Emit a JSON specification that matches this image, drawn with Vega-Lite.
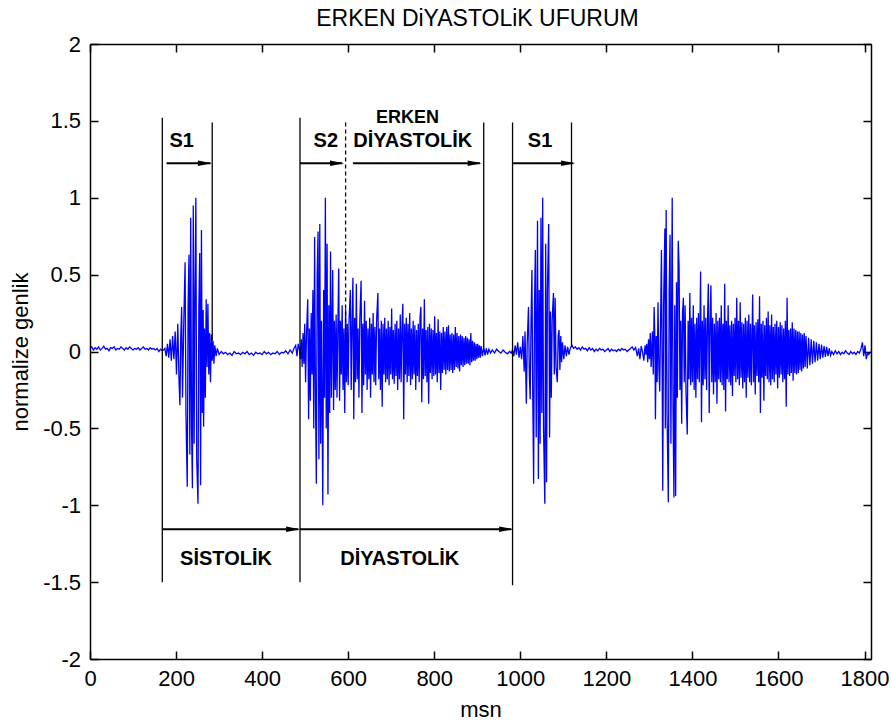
{
"$schema": "https://vega.github.io/schema/vega-lite/v6.json",
"width": 781, "height": 615,
"autosize": {"type": "none"},
"padding": {"left": 90, "top": 44, "right": 21, "bottom": 65},
"background": "white",
"config": {
  "view": {"stroke": null},
  "font": "Liberation Sans",
  "axis": {"domainColor": "black", "domainWidth": 1.5, "tickColor": "black", "tickWidth": 1.5, "tickSize": -8, "labelColor": "black", "labelFont": "Liberation Sans", "labelFontSize": 22, "grid": false, "titleFont": "Liberation Sans", "titleFontSize": 22, "titleFontWeight": "normal", "titleColor": "black", "labelPadding": 17.4},
  "title": {"fontSize": 23, "fontWeight": "normal", "font": "Liberation Sans", "color": "black"}
},
"title": {"text": "ERKEN DiYASTOLiK UFURUM", "offset": 14, "baseline": "bottom", "anchor": "middle", "frame": "group", "dy": 35, "dx": -3},
"resolve": {"axis": {"x": "independent", "y": "independent"}},
"layer": [
{
"data": {"values": [
{"t":0,"v":0.02},{"t":4,"v":0.03},{"t":8,"v":0.01},{"t":12,"v":0.025},{"t":16,"v":0.015},{"t":20,"v":0.03},{"t":24,"v":0.01},{"t":28,"v":0.02},{"t":32,"v":0.035},{"t":36,"v":0.015},{"t":40,"v":0.02},{"t":44,"v":0.005},{"t":48,"v":0.025},{"t":52,"v":0.02},{"t":56,"v":0.03},{"t":60,"v":0.01},{"t":64,"v":0.02},{"t":68,"v":0.015},{"t":72,"v":0.03},{"t":76,"v":0.02},{"t":80,"v":0.01},{"t":84,"v":0.025},{"t":88,"v":0.015},{"t":92,"v":0.03},{"t":96,"v":0.02},{"t":100,"v":0.01},{"t":104,"v":0.02},{"t":108,"v":0.015},{"t":112,"v":0.025},{"t":116,"v":0.01},{"t":120,"v":0.02},{"t":124,"v":0.03},{"t":128,"v":0.015},{"t":132,"v":0.02},{"t":136,"v":0.01},{"t":140,"v":0.025},{"t":144,"v":0.015},{"t":148,"v":0.02},{"t":152,"v":0.01},{"t":156,"v":0.02},{"t":160,"v":0.0},{"t":164,"v":0.015},{"t":168,"v":0.005},{"t":171,"v":0.01},
{"t":174,"v":0.02},{"t":177,"v":-0.03},{"t":180,"v":0.05},{"t":183,"v":-0.04},{"t":186,"v":0.08},{"t":189,"v":-0.06},{"t":192,"v":0.1},{"t":195,"v":-0.05},{"t":198,"v":0.13},{"t":201,"v":-0.15},{"t":204,"v":0.18},{"t":207,"v":-0.2},{"t":209,"v":-0.35},{"t":211,"v":0.1},{"t":213,"v":0.29},{"t":215,"v":-0.3},{"t":218,"v":0.2},{"t":221,"v":0.58},{"t":223,"v":-0.4},{"t":226,"v":-0.88},{"t":228,"v":0.3},{"t":230,"v":0.63},{"t":232,"v":-0.67},{"t":234,"v":0.87},{"t":236,"v":-0.5},{"t":238,"v":-0.89},{"t":240,"v":0.95},{"t":242,"v":-0.6},{"t":244,"v":0.4},{"t":246,"v":1.0},{"t":248,"v":-0.7},{"t":251,"v":-0.99},{"t":253,"v":0.3},{"t":255,"v":0.64},{"t":257,"v":-0.87},{"t":259,"v":0.79},{"t":261,"v":-0.4},{"t":263,"v":0.27},{"t":264,"v":-0.49},{"t":266,"v":0.15},{"t":268,"v":-0.3},{"t":270,"v":0.34},{"t":272,"v":-0.1},{"t":274,"v":0.31},{"t":276,"v":-0.15},{"t":278,"v":0.12},{"t":280,"v":-0.2},{"t":282,"v":0.11},{"t":284,"v":-0.06},{"t":286,"v":0.07},{"t":288,"v":-0.08},{"t":290,"v":0.04},{"t":293,"v":-0.03},{"t":296,"v":0.02},
{"t":300,"v":-0.02},{"t":305,"v":0.0},{"t":310,"v":-0.015},{"t":315,"v":-0.005},{"t":320,"v":-0.02},{"t":325,"v":-0.01},{"t":330,"v":-0.025},{"t":335,"v":0.0},{"t":340,"v":-0.015},{"t":345,"v":-0.01},{"t":350,"v":-0.02},{"t":355,"v":-0.005},{"t":360,"v":-0.015},{"t":365,"v":0.0},{"t":370,"v":-0.02},{"t":375,"v":-0.01},{"t":380,"v":-0.025},{"t":385,"v":-0.005},{"t":390,"v":-0.015},{"t":395,"v":-0.01},{"t":400,"v":-0.02},{"t":405,"v":0.0},{"t":410,"v":-0.015},{"t":415,"v":-0.005},{"t":420,"v":-0.02},{"t":425,"v":-0.01},{"t":430,"v":-0.015},{"t":435,"v":0.0},{"t":440,"v":-0.02},{"t":445,"v":-0.005},{"t":450,"v":-0.01},{"t":455,"v":0.005},{"t":460,"v":-0.015},{"t":465,"v":0.01},{"t":470,"v":-0.01},{"t":474,"v":0.02},{"t":478,"v":0.04},{"t":481,"v":-0.03},{"t":484,"v":0.05},{"t":487,"v":0.01},
{"t":489,"v":-0.05},{"t":491,"v":0.08},{"t":493,"v":-0.1},{"t":495,"v":0.12},{"t":497,"v":-0.08},{"t":499,"v":0.18},{"t":501,"v":-0.2},{"t":503,"v":0.1},{"t":506,"v":0.34},{"t":508,"v":-0.44},{"t":510,"v":0.15},{"t":512,"v":-0.32},{"t":514,"v":0.25},{"t":516,"v":-0.15},{"t":518,"v":0.4},{"t":520,"v":-0.5},{"t":522,"v":0.745},{"t":524,"v":-0.3},{"t":526,"v":-0.86},{"t":528,"v":0.5},{"t":530,"v":0.78},{"t":532,"v":-0.7},{"t":534,"v":0.83},{"t":536,"v":-0.6},{"t":538,"v":0.2},{"t":541,"v":-1.0},{"t":543,"v":0.4},{"t":545,"v":-0.3},{"t":547,"v":1.0},{"t":549,"v":-0.5},{"t":551,"v":0.7},{"t":553,"v":-0.93},{"t":555,"v":0.3},{"t":557,"v":-0.4},{"t":559,"v":0.65},{"t":561,"v":-0.3},{"t":564,"v":0.53},{"t":566,"v":-0.38},{"t":568,"v":0.2},{"t":570,"v":-0.25},{"t":572,"v":0.24},{"t":574,"v":-0.3},{"t":576,"v":0.15},{"t":578,"v":0.54},{"t":580,"v":-0.32},{"t":582,"v":0.2},{"t":584,"v":-0.15},{"t":586,"v":0.3},{"t":588,"v":-0.25},{"t":590,"v":0.15},{"t":592,"v":-0.4},{"t":594,"v":0.28},{"t":596,"v":-0.2},{"t":598,"v":0.18},{"t":600,"v":-0.22},{"t":602,"v":0.2},{"t":605,"v":0.4},{"t":607,"v":-0.25},{"t":609,"v":0.18},{"t":611,"v":0.48},{"t":613,"v":-0.44},{"t":615,"v":0.22},{"t":617,"v":-0.2},{"t":619,"v":0.44},{"t":621,"v":-0.18},{"t":623,"v":0.15},{"t":625,"v":-0.3},{"t":627,"v":0.2},{"t":630,"v":0.46},{"t":632,"v":-0.4},{"t":634,"v":0.18},{"t":636,"v":-0.22},{"t":638,"v":0.33},{"t":640,"v":-0.15},{"t":642,"v":0.2},{"t":644,"v":-0.25},{"t":646,"v":0.15},{"t":648,"v":-0.18},{"t":650,"v":0.22},{"t":652,"v":-0.3},{"t":654,"v":0.18},{"t":656,"v":-0.15},{"t":658,"v":0.25},{"t":660,"v":-0.2},{"t":662,"v":0.16},{"t":664,"v":-0.22},{"t":666,"v":0.2},{"t":669,"v":0.38},{"t":671,"v":-0.18},{"t":673,"v":0.15},{"t":675,"v":-0.25},{"t":677,"v":0.2},{"t":679,"v":-0.36},{"t":681,"v":0.18},{"t":683,"v":-0.15},{"t":685,"v":0.22},{"t":687,"v":-0.2},{"t":689,"v":0.15},{"t":691,"v":-0.18},{"t":693,"v":0.2},{"t":695,"v":-0.22},{"t":697,"v":0.16},{"t":699,"v":-0.15},{"t":701,"v":0.28},{"t":703,"v":-0.18},{"t":705,"v":0.14},{"t":707,"v":-0.21},{"t":709,"v":0.18},{"t":711,"v":-0.16},{"t":713,"v":0.2},{"t":715,"v":-0.25},{"t":717,"v":0.15},{"t":719,"v":-0.18},{"t":721,"v":0.24},{"t":723,"v":-0.2},{"t":725,"v":0.16},{"t":727,"v":0.31},{"t":729,"v":-0.44},{"t":731,"v":0.18},{"t":733,"v":-0.15},{"t":735,"v":0.22},{"t":737,"v":-0.2},{"t":739,"v":0.18},{"t":741,"v":-0.16},{"t":743,"v":0.25},{"t":745,"v":-0.22},{"t":747,"v":0.15},{"t":749,"v":-0.18},{"t":751,"v":0.2},{"t":753,"v":-0.15},{"t":755,"v":0.17},{"t":757,"v":-0.25},{"t":759,"v":0.14},{"t":761,"v":-0.16},{"t":763,"v":0.18},{"t":765,"v":-0.2},{"t":767,"v":0.22},{"t":769,"v":0.29},{"t":771,"v":-0.33},{"t":773,"v":0.15},{"t":775,"v":-0.18},{"t":777,"v":0.34},{"t":779,"v":-0.16},{"t":781,"v":0.14},{"t":783,"v":-0.2},{"t":785,"v":0.16},{"t":787,"v":-0.34},{"t":789,"v":0.18},{"t":791,"v":-0.14},{"t":793,"v":0.15},{"t":795,"v":-0.18},{"t":797,"v":0.14},{"t":799,"v":-0.16},{"t":801,"v":0.23},{"t":803,"v":-0.15},{"t":805,"v":0.12},{"t":807,"v":-0.2},{"t":809,"v":0.21},{"t":811,"v":-0.14},{"t":813,"v":0.13},{"t":815,"v":-0.25},{"t":817,"v":0.12},{"t":819,"v":-0.14},{"t":821,"v":0.16},{"t":823,"v":-0.12},{"t":825,"v":0.13},{"t":827,"v":-0.15},{"t":829,"v":0.16},{"t":831,"v":-0.12},{"t":833,"v":0.17},{"t":835,"v":-0.13},{"t":837,"v":0.11},{"t":839,"v":-0.12},
{"t":841,"v":0.12},{"t":843,"v":-0.14},{"t":845,"v":0.11},{"t":847,"v":-0.12},{"t":849,"v":0.16},{"t":851,"v":-0.1},{"t":853,"v":0.12},{"t":855,"v":-0.11},{"t":857,"v":0.1},{"t":859,"v":-0.13},{"t":861,"v":0.11},{"t":863,"v":-0.09},{"t":865,"v":0.1},{"t":867,"v":-0.1},{"t":869,"v":0.09},{"t":871,"v":-0.09},{"t":873,"v":0.1},{"t":875,"v":-0.08},{"t":877,"v":0.09},{"t":879,"v":-0.08},{"t":881,"v":0.08},{"t":883,"v":-0.09},{"t":885,"v":0.12},{"t":887,"v":-0.07},{"t":889,"v":0.07},{"t":891,"v":-0.06},{"t":893,"v":0.06},{"t":895,"v":-0.06},{"t":897,"v":0.05},{"t":899,"v":-0.05},{"t":901,"v":0.05},{"t":903,"v":-0.04},{"t":905,"v":0.04},{"t":907,"v":-0.04},{"t":909,"v":0.035},{"t":912,"v":-0.03},{"t":915,"v":0.03},{"t":918,"v":-0.025},{"t":921,"v":0.02},{"t":924,"v":-0.02},{"t":927,"v":0.015},{"t":931,"v":-0.01},
{"t":935,"v":0.01},{"t":940,"v":-0.01},{"t":945,"v":0.015},{"t":950,"v":0.0},{"t":955,"v":-0.01},{"t":960,"v":0.01},{"t":965,"v":-0.005},{"t":970,"v":-0.015},{"t":975,"v":0.0},{"t":979,"v":-0.01},
{"t":982,"v":0.01},{"t":985,"v":-0.03},{"t":988,"v":0.04},{"t":991,"v":-0.02},{"t":994,"v":0.06},{"t":997,"v":-0.04},{"t":1000,"v":0.03},{"t":1003,"v":-0.05},{"t":1006,"v":0.1},{"t":1009,"v":-0.13},{"t":1011,"v":0.13},{"t":1014,"v":-0.34},{"t":1016,"v":0.05},{"t":1019,"v":0.29},{"t":1021,"v":-0.15},{"t":1023,"v":-0.31},{"t":1025,"v":0.2},{"t":1027,"v":0.53},{"t":1029,"v":-0.3},{"t":1031,"v":-0.86},{"t":1033,"v":0.3},{"t":1035,"v":0.66},{"t":1037,"v":-0.56},{"t":1040,"v":0.85},{"t":1042,"v":-0.83},{"t":1044,"v":0.4},{"t":1046,"v":-0.6},{"t":1048,"v":0.87},{"t":1050,"v":-0.4},{"t":1052,"v":1.0},{"t":1054,"v":-0.5},{"t":1057,"v":-0.99},{"t":1059,"v":0.7},{"t":1061,"v":-0.85},{"t":1063,"v":0.4},{"t":1066,"v":0.83},{"t":1068,"v":-0.56},{"t":1070,"v":0.26},{"t":1072,"v":-0.3},{"t":1074,"v":0.2},{"t":1077,"v":0.38},{"t":1079,"v":-0.15},{"t":1081,"v":0.35},{"t":1083,"v":-0.1},{"t":1086,"v":-0.2},{"t":1088,"v":0.1},{"t":1090,"v":0.14},{"t":1092,"v":-0.12},{"t":1094,"v":0.1},{"t":1096,"v":-0.07},{"t":1098,"v":0.06},{"t":1101,"v":-0.05},{"t":1104,"v":0.04},{"t":1107,"v":-0.03},{"t":1110,"v":0.03},{"t":1113,"v":-0.02},{"t":1116,"v":0.02},{"t":1120,"v":0.04},{"t":1124,"v":0.02},
{"t":1128,"v":0.03},{"t":1132,"v":0.015},{"t":1136,"v":0.025},{"t":1140,"v":0.01},{"t":1144,"v":0.03},{"t":1148,"v":0.015},{"t":1152,"v":0.02},{"t":1156,"v":0.005},{"t":1160,"v":0.025},{"t":1164,"v":0.01},{"t":1168,"v":0.02},{"t":1172,"v":0.0},{"t":1176,"v":0.015},{"t":1180,"v":0.005},{"t":1184,"v":0.02},{"t":1188,"v":0.01},{"t":1192,"v":0.015},{"t":1196,"v":0.0},{"t":1200,"v":0.01},{"t":1204,"v":0.02},{"t":1208,"v":0.0},{"t":1212,"v":0.015},{"t":1216,"v":0.005},{"t":1220,"v":0.01},{"t":1224,"v":0.0},{"t":1228,"v":0.015},{"t":1232,"v":0.005},{"t":1236,"v":0.02},{"t":1240,"v":0.01},{"t":1244,"v":0.015},{"t":1248,"v":0.0},{"t":1252,"v":0.01},{"t":1256,"v":0.02},{"t":1260,"v":0.03},{"t":1264,"v":0.01},{"t":1268,"v":0.025},{"t":1272,"v":-0.03},{"t":1275,"v":0.02},{"t":1278,"v":-0.05},{"t":1281,"v":0.035},{"t":1284,"v":0.0},{"t":1287,"v":-0.06},{"t":1290,"v":0.04},
{"t":1292,"v":-0.02},{"t":1294,"v":0.05},{"t":1296,"v":-0.07},{"t":1298,"v":0.08},{"t":1300,"v":-0.05},{"t":1302,"v":0.12},{"t":1304,"v":-0.1},{"t":1307,"v":0.13},{"t":1309,"v":-0.15},{"t":1311,"v":0.29},{"t":1313,"v":0.05},{"t":1314,"v":-0.44},{"t":1316,"v":0.1},{"t":1318,"v":-0.2},{"t":1320,"v":0.32},{"t":1322,"v":-0.1},{"t":1324,"v":-0.26},{"t":1326,"v":0.2},{"t":1328,"v":0.66},{"t":1330,"v":-0.3},{"t":1331,"v":-0.905},{"t":1333,"v":0.3},{"t":1336,"v":0.8},{"t":1337,"v":-0.5},{"t":1339,"v":0.92},{"t":1341,"v":-0.4},{"t":1344,"v":-0.98},{"t":1346,"v":0.4},{"t":1348,"v":0.76},{"t":1350,"v":-0.6},{"t":1353,"v":1.0},{"t":1355,"v":-0.4},{"t":1357,"v":-0.95},{"t":1359,"v":0.3},{"t":1361,"v":-0.94},{"t":1363,"v":0.45},{"t":1365,"v":-0.3},{"t":1367,"v":0.72},{"t":1369,"v":0.55},{"t":1371,"v":-0.25},{"t":1373,"v":0.2},{"t":1375,"v":-0.47},{"t":1377,"v":0.25},{"t":1379,"v":0.35},{"t":1381,"v":-0.2},{"t":1383,"v":0.3},{"t":1385,"v":-0.25},{"t":1388,"v":-0.54},{"t":1390,"v":0.2},{"t":1392,"v":-0.18},{"t":1394,"v":0.38},{"t":1396,"v":-0.22},{"t":1398,"v":0.22},{"t":1400,"v":-0.2},{"t":1402,"v":0.3},{"t":1404,"v":-0.25},{"t":1406,"v":0.18},{"t":1408,"v":-0.3},{"t":1410,"v":0.22},{"t":1412,"v":-0.18},{"t":1414,"v":0.25},{"t":1416,"v":-0.2},{"t":1419,"v":0.52},{"t":1421,"v":-0.46},{"t":1423,"v":0.2},{"t":1425,"v":-0.22},{"t":1427,"v":0.3},{"t":1429,"v":-0.18},{"t":1431,"v":0.22},{"t":1433,"v":-0.25},{"t":1435,"v":0.2},{"t":1437,"v":0.44},{"t":1439,"v":-0.4},{"t":1441,"v":0.18},{"t":1443,"v":0.43},{"t":1445,"v":-0.2},{"t":1447,"v":0.22},{"t":1449,"v":-0.28},{"t":1451,"v":0.18},{"t":1453,"v":-0.2},{"t":1455,"v":0.25},{"t":1457,"v":-0.34},{"t":1459,"v":0.2},{"t":1461,"v":-0.18},{"t":1463,"v":0.22},{"t":1465,"v":-0.2},{"t":1467,"v":0.3},{"t":1469,"v":-0.22},{"t":1471,"v":0.18},{"t":1473,"v":-0.25},{"t":1475,"v":0.44},{"t":1477,"v":-0.39},{"t":1479,"v":0.2},{"t":1481,"v":-0.18},{"t":1483,"v":0.3},{"t":1485,"v":-0.2},{"t":1487,"v":0.17},{"t":1489,"v":-0.22},{"t":1491,"v":0.2},{"t":1493,"v":-0.29},{"t":1495,"v":0.18},{"t":1497,"v":-0.16},{"t":1499,"v":0.22},{"t":1501,"v":-0.2},{"t":1503,"v":0.35},{"t":1505,"v":-0.18},{"t":1507,"v":0.2},{"t":1509,"v":-0.22},{"t":1511,"v":0.32},{"t":1513,"v":-0.17},{"t":1515,"v":0.19},{"t":1517,"v":-0.24},{"t":1519,"v":0.18},{"t":1521,"v":-0.2},{"t":1523,"v":0.22},{"t":1525,"v":-0.3},{"t":1527,"v":0.2},{"t":1529,"v":-0.17},{"t":1531,"v":0.24},{"t":1533,"v":-0.2},{"t":1535,"v":0.18},{"t":1537,"v":-0.22},{"t":1540,"v":0.37},{"t":1542,"v":-0.2},{"t":1544,"v":0.17},{"t":1546,"v":-0.28},{"t":1548,"v":0.19},{"t":1550,"v":-0.16},{"t":1552,"v":0.21},{"t":1554,"v":-0.2},{"t":1556,"v":0.36},{"t":1558,"v":-0.4},{"t":1560,"v":0.18},{"t":1562,"v":-0.17},{"t":1564,"v":0.2},{"t":1566,"v":-0.32},{"t":1568,"v":0.17},{"t":1570,"v":-0.16},{"t":1572,"v":0.22},{"t":1574,"v":-0.18},{"t":1576,"v":0.26},{"t":1578,"v":-0.2},{"t":1580,"v":0.17},{"t":1582,"v":-0.22},{"t":1584,"v":0.24},{"t":1586,"v":-0.18},{"t":1588,"v":0.16},{"t":1590,"v":-0.2},{"t":1592,"v":0.18},{"t":1594,"v":-0.15},{"t":1596,"v":0.2},{"t":1598,"v":-0.24},{"t":1600,"v":0.16},{"t":1602,"v":-0.17},{"t":1604,"v":0.19},{"t":1606,"v":-0.15},{"t":1608,"v":0.17},{"t":1610,"v":-0.2},{"t":1612,"v":0.15},{"t":1614,"v":-0.18},{"t":1616,"v":0.2},{"t":1618,"v":-0.36},{"t":1620,"v":0.35},{"t":1622,"v":-0.15},{"t":1624,"v":0.14},{"t":1626,"v":-0.16},{"t":1628,"v":0.15},{"t":1630,"v":-0.14},{"t":1632,"v":0.19},{"t":1634,"v":-0.19},
{"t":1636,"v":0.15},{"t":1638,"v":-0.14},{"t":1640,"v":0.14},{"t":1642,"v":-0.15},{"t":1644,"v":0.13},{"t":1646,"v":-0.14},{"t":1648,"v":0.13},{"t":1650,"v":-0.12},{"t":1652,"v":0.12},{"t":1654,"v":-0.13},{"t":1656,"v":0.11},{"t":1658,"v":-0.11},{"t":1660,"v":0.12},{"t":1662,"v":-0.1},{"t":1664,"v":0.1},{"t":1667,"v":-0.11},{"t":1670,"v":0.09},{"t":1673,"v":-0.09},{"t":1676,"v":0.08},{"t":1679,"v":-0.08},{"t":1682,"v":0.07},{"t":1685,"v":-0.07},{"t":1688,"v":0.06},{"t":1691,"v":-0.06},{"t":1694,"v":0.05},{"t":1697,"v":-0.05},{"t":1700,"v":0.045},{"t":1703,"v":-0.04},{"t":1706,"v":0.035},{"t":1709,"v":-0.035},{"t":1712,"v":0.03},{"t":1715,"v":-0.03},{"t":1718,"v":0.02},{"t":1721,"v":-0.025},
{"t":1724,"v":0.0},{"t":1728,"v":-0.02},{"t":1732,"v":0.005},{"t":1736,"v":-0.015},{"t":1740,"v":0.0},{"t":1744,"v":-0.02},{"t":1748,"v":-0.005},{"t":1752,"v":-0.015},{"t":1756,"v":0.005},{"t":1760,"v":-0.01},{"t":1764,"v":-0.02},{"t":1768,"v":0.0},{"t":1772,"v":-0.015},{"t":1776,"v":-0.005},{"t":1780,"v":-0.02},{"t":1784,"v":0.0},{"t":1788,"v":-0.01},{"t":1792,"v":0.02},{"t":1795,"v":0.06},{"t":1798,"v":-0.03},{"t":1801,"v":0.04},{"t":1804,"v":-0.05},{"t":1807,"v":-0.01},{"t":1810,"v":-0.02},{"t":1814,"v":0.0}
]},
"mark": {"type": "line", "color": "#0000ff", "strokeWidth": 1.3},
"encoding": {
  "x": {"field": "t", "type": "quantitative", "scale": {"domain": [0, 1815], "nice": false, "zero": false},
        "axis": {"orient": "bottom", "values": [0,200,400,600,800,1000,1200,1400,1600,1800], "title": "msn", "titlePadding": 10, "labelExpr": "'' + datum.value", "labelFlush": false}},
  "y": {"field": "v", "type": "quantitative", "scale": {"domain": [-2, 2], "nice": false, "zero": false},
        "axis": {"orient": "left", "values": [-2,-1.5,-1,-0.5,0,0.5,1,1.5,2], "title": "normalize genlik", "titlePadding": 10, "labelExpr": "'' + datum.value", "labelFlush": false}}
}
},
{
"data": {"values": [
{"t":168,"a":1.52,"b":-1.5},{"t":284,"a":1.49,"b":0.07},{"t":488,"a":1.52,"b":-1.5},{"t":915,"a":1.49,"b":0.03},{"t":982,"a":1.49,"b":-1.52},{"t":1119,"a":1.49,"b":0.03}
]},
"mark": {"type": "rule", "color": "black", "strokeWidth": 1.3},
"encoding": {
  "x": {"field": "t", "type": "quantitative", "scale": {"domain": [0, 1815], "nice": false, "zero": false},
        "axis": {"orient": "top", "values": [0,200,400,600,800,1000,1200,1400,1600,1800], "labels": false, "title": null}},
  "y": {"field": "a", "type": "quantitative", "scale": {"domain": [-2, 2], "nice": false, "zero": false},
        "axis": {"orient": "right", "values": [-2,-1.5,-1,-0.5,0,0.5,1,1.5,2], "labels": false, "title": null}},
  "y2": {"field": "b"}
}
},
{
"data": {"values": [{"t":594,"a":1.49,"b":0.05}]},
"mark": {"type": "rule", "color": "black", "strokeWidth": 1.3, "strokeDash": [4, 3]},
"encoding": {
  "x": {"field": "t", "type": "quantitative", "scale": {"domain": [0, 1815], "nice": false, "zero": false}, "axis": null},
  "y": {"field": "a", "type": "quantitative", "scale": {"domain": [-2, 2], "nice": false, "zero": false}, "axis": null},
  "y2": {"field": "b"}
}
},
{
"data": {"values": [
{"a":178,"b":280,"v":1.224},{"a":488,"b":586,"v":1.224},{"a":611,"b":906,"v":1.224},{"a":983,"b":1123,"v":1.224},{"a":169,"b":484,"v":-1.156},{"a":488,"b":979,"v":-1.156}
]},
"mark": {"type": "rule", "color": "black", "strokeWidth": 2},
"encoding": {
  "x": {"field": "a", "type": "quantitative", "scale": {"domain": [0, 1815], "nice": false, "zero": false}, "axis": null},
  "x2": {"field": "b"},
  "y": {"field": "v", "type": "quantitative", "scale": {"domain": [-2, 2], "nice": false, "zero": false}, "axis": null}
}
},
{
"data": {"values": [
{"t":267,"v":1.224},{"t":574,"v":1.224},{"t":894,"v":1.224},{"t":1111,"v":1.224},{"t":472,"v":-1.156},{"t":967,"v":-1.156}
]},
"mark": {"type": "point", "shape": "M-1,-0.4L1,0L-1,0.4Z", "size": 196, "filled": true, "color": "black", "opacity": 1, "strokeWidth": 0},
"encoding": {
  "x": {"field": "t", "type": "quantitative", "scale": {"domain": [0, 1815], "nice": false, "zero": false}, "axis": null},
  "y": {"field": "v", "type": "quantitative", "scale": {"domain": [-2, 2], "nice": false, "zero": false}, "axis": null}
}
},
{
"data": {"values": [
{"t":213,"v":1.372,"label":"S1"},{"t":548,"v":1.372,"label":"S2"},{"t":750,"v":1.372,"label":"DİYASTOLİK"},{"t":1046,"v":1.372,"label":"S1"},{"t":316,"v":-1.348,"label":"SİSTOLİK"},{"t":720,"v":-1.348,"label":"DİYASTOLİK"}
]},
"mark": {"type": "text", "font": "Liberation Sans", "fontWeight": "bold", "fontSize": 20, "color": "black", "align": "center", "baseline": "middle"},
"encoding": {
  "x": {"field": "t", "type": "quantitative", "scale": {"domain": [0, 1815], "nice": false, "zero": false}, "axis": null},
  "y": {"field": "v", "type": "quantitative", "scale": {"domain": [-2, 2], "nice": false, "zero": false}, "axis": null},
  "text": {"field": "label"}
}
},
{
"data": {"values": [{"t":738,"v":1.521,"label":"ERKEN"}]},
"mark": {"type": "text", "font": "Liberation Sans", "fontWeight": "bold", "fontSize": 18, "color": "black", "align": "center", "baseline": "middle"},
"encoding": {
  "x": {"field": "t", "type": "quantitative", "scale": {"domain": [0, 1815], "nice": false, "zero": false}, "axis": null},
  "y": {"field": "v", "type": "quantitative", "scale": {"domain": [-2, 2], "nice": false, "zero": false}, "axis": null},
  "text": {"field": "label"}
}
}
]
}
